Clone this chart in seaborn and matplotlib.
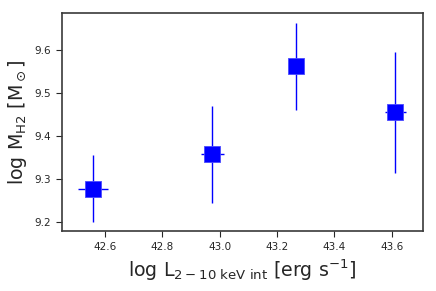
import numpy as np
import matplotlib
matplotlib.use('Agg')
import matplotlib.pyplot as plt
import seaborn as sns

# values
log_lx = [42.559, 42.975, 43.267, 43.613]
log_mh2 = [9.277, 9.358, 9.562, 9.455]
lx_err = [0.052, 0.039, 0.02, 0.037]
mh2_err = [0.078, 0.113, 0.102, 0.140]

x_ticks = [42.6, 42.8, 43.0, 43.2, 43.4, 43.6]
y_ticks = [9.2, 9.3, 9.4, 9.5, 9.6]

sns.set_style('ticks')
plt.rcParams['font.family'] = ['DejaVu Sans']

fig = plt.figure(figsize=(4.36, 2.91), dpi=100)
ax = fig.add_axes([0.142, 0.2045, 0.828, 0.7505])

ax.errorbar(log_lx, log_mh2, xerr=lx_err, yerr=mh2_err, fmt='none',
            ecolor='blue', elinewidth=1.0, capsize=0, zorder=2)
sns.scatterplot(x=log_lx, y=log_mh2, marker='s', s=140, color='blue',
                edgecolor='#4a4aff', linewidth=0.6, ax=ax, zorder=3)

ax.set_xlim(42.45, 43.709)
ax.set_ylim(9.178, 9.686)
ax.set_xticks(x_ticks)
ax.set_yticks(y_ticks)
ax.tick_params(labelsize=7.5, colors='#262626', length=4)
for s in ax.spines.values():
    s.set_color('#3a3a3a')
    s.set_linewidth(1.2)

ax.set_xlabel(r'log L$_{\rm 2-10\ keV\ int}$ [erg s$^{-1}$]', fontsize=13.7, color='#262626')
ax.set_ylabel(r'log M$_{\rm H2}$ [M$_\odot$]', fontsize=13.7, color='#262626')

fig.savefig('out.png', dpi=100)
